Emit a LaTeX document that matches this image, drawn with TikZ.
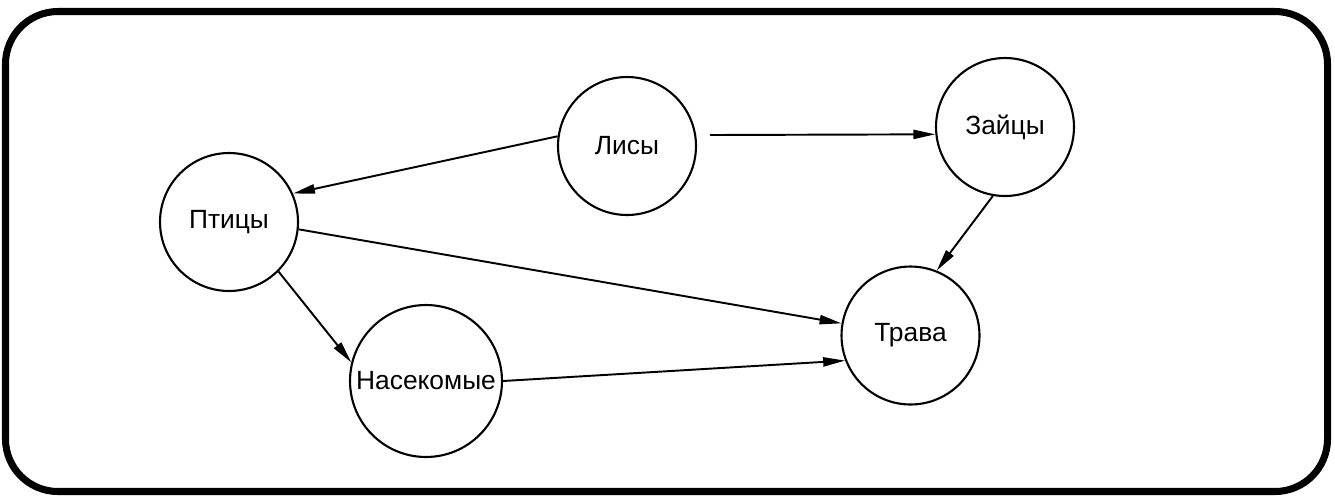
\documentclass[tikz,border=0pt]{standalone}
\usepackage{fontspec}
\setmainfont{Liberation Sans}
\usetikzlibrary{arrows.meta}

\begin{document}
\begin{tikzpicture}[x=0.02cm, y=-0.02cm,
    animal/.style={circle, draw, line width=1.2pt, inner sep=0pt, minimum size=2.76cm,
        font=\fontsize{15}{18}\selectfont},
    arr/.style={line width=1.1pt, -{Triangle[length=12.5pt, width=5.2pt]}}]
\useasboundingbox (0, 0) rectangle (1335, 495);
\draw[line width=4pt, rounded corners=1.05cm] (5.5, 11.5) rectangle (1327.5, 491.5);

    \node[animal] (lisy) at (627, 146) {Лисы};
    \node[animal] (zaytsy) at (1005, 127) {Зайцы};
    \node[animal] (ptitsy) at (229, 222) {Птицы};
    \node[animal] (trava) at (910.5, 335.5) {Трава};
    \node[animal, minimum size=3.04cm] (nasekomye) at (426, 381) {Насекомые};

    \draw[arr] (lisy.172) -- (ptitsy.24);
    \draw[arr, shorten <=0.28cm] (lisy.9) -- (zaytsy.186);
    \draw[arr] (zaytsy.260) -- (trava.68);
    \draw[arr] (ptitsy.-6) -- (trava.170);
    \draw[arr] (ptitsy.-45) -- (nasekomye.166);
    \draw[arr] (nasekomye.east) -- (trava.201);
\end{tikzpicture}
\end{document}
